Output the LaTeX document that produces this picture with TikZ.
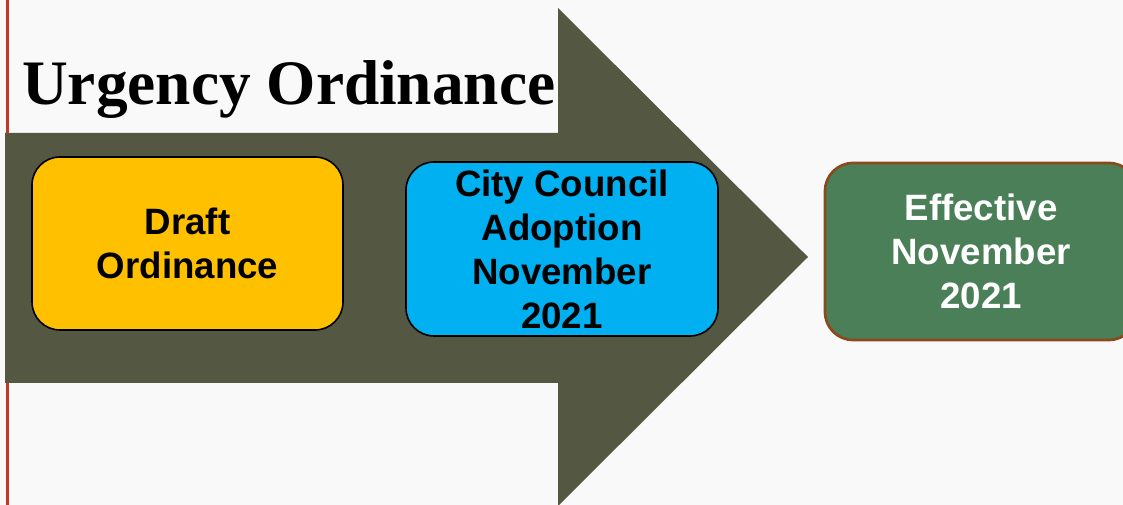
\documentclass[tikz,border=0pt]{standalone}
\usepackage{fontspec}
\setmainfont{Liberation Serif}
\setsansfont{Liberation Sans}
\definecolor{bgcol}{RGB}{249,249,249}
\definecolor{arrowcol}{RGB}{84,87,66}
\definecolor{redline}{RGB}{192,57,43}
\definecolor{draftcol}{RGB}{255,192,0}
\definecolor{councilcol}{RGB}{0,176,240}
\definecolor{effectcol}{RGB}{74,127,88}
\definecolor{effectborder}{RGB}{139,74,28}
\begin{document}
\begin{tikzpicture}[x=0.75pt,y=0.75pt,
    stage/.style={rectangle,rounded corners=21pt,draw=black,line width=1.2pt,
      inner sep=0pt,align=center,font=\sffamily\bfseries\fontsize{27.5}{33}\selectfont}]
  \useasboundingbox[fill=bgcol] (0,0) rectangle (1123,505);
  % left rule
  \draw[redline,line width=1.6pt] (7.5,0) -- (7.5,505);
  % big arrow
  \fill[arrowcol] (5,372) -- (558,372) -- (558,497) -- (808,248)
    -- (558,-1) -- (558,122) -- (5,122) -- cycle;
  \node[anchor=base west,inner sep=0pt,font=\bfseries\fontsize{47.5}{56}\selectfont]
    (title) at (22,400) {Urgency Ordinance};
  \node[stage,fill=draftcol,minimum width=233.25pt,minimum height=129.75pt]
    (draft) at (187.5,261.5) {Draft\\Ordinance};
  \node[stage,fill=councilcol,minimum width=234pt,minimum height=130.5pt]
    (council) at (562,256) {City Council\\Adoption\\November\\2021};
  \node[stage,fill=effectcol,draw=effectborder,line width=2pt,text=white,
    minimum width=234pt,minimum height=132.75pt]
    (effective) at (981,253.5) {Effective\\November\\2021};
\end{tikzpicture}
\end{document}
